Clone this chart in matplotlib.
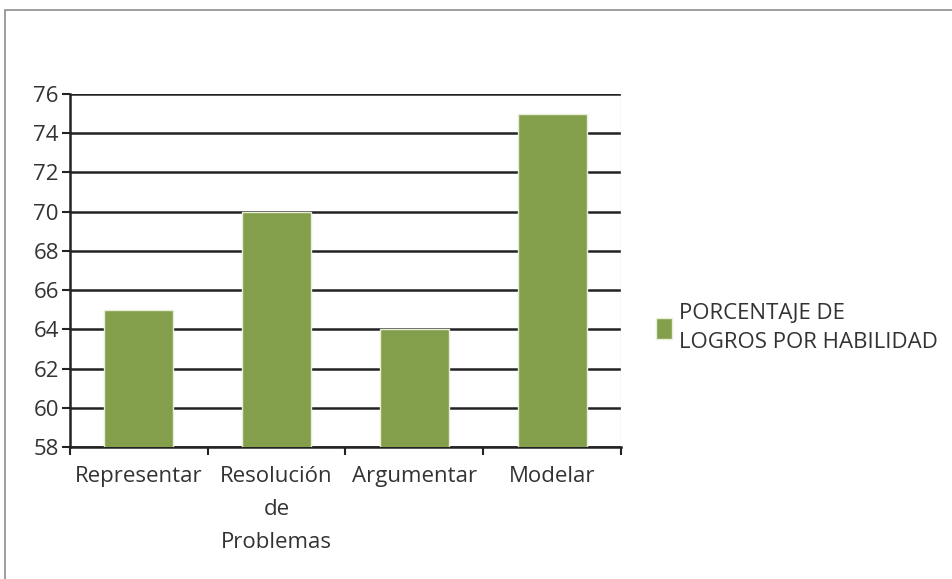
import matplotlib.pyplot as plt
from matplotlib.patches import Rectangle
import numpy as np

categories = ['Representar', 'Resolución\nde\nProblemas', 'Argumentar', 'Modelar']
values = [65, 70, 64, 75]
series_name = 'PORCENTAJE DE\nLOGROS POR HABILIDAD'
yticks = [58, 60, 62, 64, 66, 68, 70, 72, 74, 76]

plt.rcParams['font.family'] = ['Open Sans', 'DejaVu Sans']
plt.rcParams['font.size'] = 16
plt.rcParams['text.color'] = '#333333'
plt.rcParams['xtick.labelcolor'] = '#333333'
plt.rcParams['ytick.labelcolor'] = '#333333'

W, H = 953, 579
fig = plt.figure(figsize=(W / 100, H / 100), dpi=100)
ax = fig.add_axes([70 / W, 1 - 447 / H, (621 - 70) / W, (447 - 94) / H])

# outer frame of the chart (only top and left visible in the reference)
fig.patches.append(Rectangle((5 / W, -0.1), 1.2, 1 - 10 / H + 0.1, transform=fig.transFigure,
                             fill=False, edgecolor='#8c8c8c', linewidth=1.2))

x = np.arange(len(categories))
ax.bar(x, values, width=0.5, color='#839F4B', edgecolor='#e8efd8', linewidth=1.0,
       zorder=3, label=series_name)

ax.set_xlim(-0.5, len(categories) - 0.5)
ax.set_ylim(58, 76)
ax.set_yticks(yticks)
ax.yaxis.grid(True, color='#222222', linewidth=1.8, zorder=0)
ax.set_axisbelow(True)

ax.set_xticks(np.arange(-0.5, len(categories), 1.0))
ax.set_xticklabels([])
ax.set_xticks(x, minor=True)
ax.set_xticklabels(categories, minor=True, linespacing=1.75)
ax.tick_params(axis='x', which='minor', length=0, pad=14)
ax.tick_params(axis='x', which='major', length=6, width=1.5, color='#222222', direction='out')
ax.tick_params(axis='y', length=6, width=1.5, color='#222222', direction='out', pad=2)

for s in ['top', 'right']:
    ax.spines[s].set_visible(False)
ax.spines['left'].set_color('#222222')
ax.spines['left'].set_linewidth(1.8)
ax.spines['bottom'].set_color('#222222')
ax.spines['bottom'].set_linewidth(1.8)
ax.axvline(len(categories) - 0.5, color='#dddddd', linewidth=1, zorder=1)

leg = ax.legend(loc='center left', bbox_to_anchor=(640 / W, 1 - 328 / H), bbox_transform=fig.transFigure,
                frameon=False, handlelength=0.75, handleheight=1.05, handletextpad=0.3,
                borderpad=0.2, fontsize=16)
for t in leg.get_texts():
    t.set_linespacing(1.55)

fig.savefig('out.png', dpi=100)
